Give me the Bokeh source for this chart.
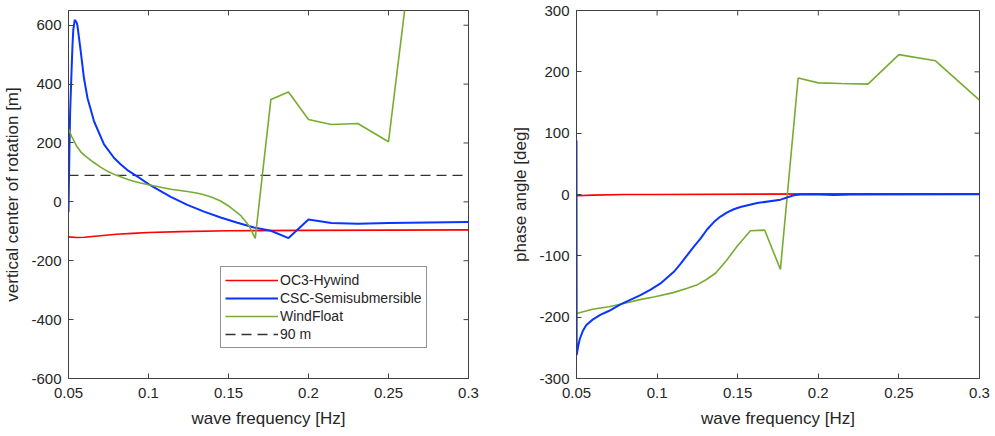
import math
from bokeh.plotting import figure
from bokeh.layouts import row
from bokeh.models import FixedTicker, Legend, LegendItem, Range1d
from bokeh.embed import file_html
from bokeh.resources import INLINE

# ---------------- data ----------------
x_ticks = [0.05, 0.1, 0.15, 0.2, 0.25, 0.3]
x_tick_labels = ["0.05", "0.1", "0.15", "0.2", "0.25", "0.3"]
y1_ticks = [-600, -400, -200, 0, 200, 400, 600]
y2_ticks = [-300, -200, -100, 0, 100, 200, 300]

# left panel: vertical center of rotation [m]
oc3_f = [0.05, 0.055, 0.06, 0.07, 0.08, 0.09, 0.1, 0.12, 0.15, 0.2, 0.25, 0.3]
oc3_z = [-119, -121, -120, -115, -110, -107, -104, -101, -98, -97, -96, -95]

csc_f = [0.05, 0.0505, 0.051, 0.052, 0.0525, 0.053, 0.0539, 0.055, 0.0556, 0.0577,
         0.0597, 0.0619, 0.066, 0.0722, 0.0785, 0.0827, 0.0868, 0.0931, 0.1, 0.1035,
         0.1139, 0.1243, 0.1347, 0.1451, 0.1556, 0.1659, 0.1765, 0.1875, 0.2, 0.2143,
         0.2308, 0.25, 0.3]
csc_z = [-35, 150, 300, 460, 532, 585, 618, 610, 599, 509,
         419, 352, 273, 195, 149, 127, 108, 86, 60, 49,
         17, -10, -33, -53, -71, -87, -98, -123, -60, -72,
         -74, -72, -68]

wf_f = [0.05, 0.052, 0.055, 0.058, 0.06, 0.065, 0.07, 0.075, 0.08, 0.085, 0.09, 0.095,
        0.1, 0.1139, 0.1243, 0.13, 0.1347, 0.14, 0.1451, 0.15, 0.1579, 0.1628, 0.1667,
        0.1765, 0.1875, 0.2, 0.2143, 0.2308, 0.25, 0.2727, 0.3]
wf_z = [248, 222, 190, 168, 158, 137, 118, 102, 90, 80, 71, 64,
        58, 43, 35, 30, 24, 15, 3, -14, -48, -81, -124,
        348, 373, 280, 263, 266, 204, 1210, 1400]

ref_f = [0.05, 0.3]
ref_z = [90, 90]

# right panel: phase angle [deg]
oc3_p_f = [0.05, 0.06, 0.08, 0.1, 0.2, 0.3]
oc3_p = [-2, -1, 0, 0, 1, 1]

csc_p_f = [0.05, 0.0501, 0.051, 0.052, 0.054, 0.056, 0.06, 0.065, 0.07, 0.0773, 0.0897,
           0.096, 0.1021, 0.106, 0.1104, 0.1145, 0.1187, 0.1228, 0.1269, 0.131, 0.1352,
           0.1393, 0.1435, 0.1476, 0.1517, 0.1621, 0.1766, 0.1848, 0.189, 0.2, 0.21,
           0.22, 0.3]
csc_p = [88, -262, -248, -236, -222, -213, -204, -196, -190, -179, -164,
         -155, -145, -136, -126, -113, -99, -85, -72, -57, -45,
         -36, -29, -24, -20.5, -14, -8.4, -1.3, 0, 0, -1,
         0, 0.5]

wf_p_f = [0.05, 0.06, 0.07, 0.0773, 0.09, 0.098, 0.11, 0.1187, 0.125, 0.1304, 0.1364,
          0.1429, 0.15, 0.1579, 0.1667, 0.1765, 0.1875, 0.2, 0.2143, 0.2308, 0.25,
          0.2727, 0.3]
wf_p = [-194, -187, -183, -179, -171, -167, -160, -153, -147, -139, -128,
        -108, -83, -59, -58, -122, 190, 182, 181, 180, 228,
        218, 154]

RED = "#ff0000"
BLUE = "#0a35ff"
GREEN = "#77ac30"
DASH = "#333333"
AX = "#404040"
TXT = "#262626"
FONT = "Liberation Sans"


def style(p, yticks, ylabel):
    p.xgrid.visible = False
    p.ygrid.visible = False
    p.outline_line_color = AX
    p.outline_line_width = 1
    p.xaxis.ticker = FixedTicker(ticks=x_ticks)
    p.xaxis.major_label_overrides = {t: l for t, l in zip(x_ticks, x_tick_labels)}
    p.yaxis.ticker = FixedTicker(ticks=yticks)
    p.yaxis.major_label_overrides = {t: str(t) for t in yticks}
    p.xaxis.axis_label = "wave frequency [Hz]"
    p.yaxis.axis_label = ylabel
    for ax in p.xaxis + p.yaxis:
        ax.axis_line_color = AX
        ax.major_tick_line_color = AX
        ax.major_tick_in = 5
        ax.major_tick_out = 0
        ax.minor_tick_line_color = None
        ax.major_label_text_font = FONT
        ax.major_label_text_font_size = "15px"
        ax.major_label_text_color = TXT
        ax.axis_label_text_font = FONT
        ax.axis_label_text_font_size = "17px"
        ax.axis_label_text_font_style = "normal"
        ax.axis_label_text_color = TXT
    p.xaxis.major_label_standoff = 9
    p.xaxis.axis_label_standoff = 8
    p.yaxis.major_label_standoff = 7
    p.yaxis.axis_label_standoff = 6
    # box-style inward ticks on top and right edges (clipped to frame)
    xr, yr = p.x_range, p.y_range
    p.scatter(x_ticks, [yr.end] * len(x_ticks), marker="dash", angle=math.pi / 2,
              size=10, line_color=AX, line_width=1)
    p.scatter([xr.end] * len(yticks), yticks, marker="dash",
              size=10, line_color=AX, line_width=1)


# ---------------- left panel ----------------
p1 = figure(width=500, height=436, output_backend="svg", toolbar_location=None,
            x_range=Range1d(0.05, 0.3), y_range=Range1d(-600, 650),
            min_border_left=67, min_border_right=32, min_border_top=10, min_border_bottom=57)
style(p1, y1_ticks, "vertical center of rotation [m]")

r_ref = p1.line(ref_f, ref_z, line_color=DASH, line_width=1.3, line_dash="10 6")
r_oc3 = p1.line(oc3_f, oc3_z, line_color=RED, line_width=1.6)
r_csc = p1.line(csc_f, csc_z, line_color=BLUE, line_width=2)
r_wf = p1.line(wf_f, wf_z, line_color=GREEN, line_width=1.6)

legend = Legend(items=[
    LegendItem(label="OC3-Hywind", renderers=[r_oc3]),
    LegendItem(label="CSC-Semisubmersible", renderers=[r_csc]),
    LegendItem(label="WindFloat", renderers=[r_wf]),
    LegendItem(label="90 m", renderers=[r_ref]),
], location=(152, 30))
legend.label_text_font = FONT
legend.label_text_font_size = "14px"
legend.label_text_color = TXT
legend.glyph_width = 53
legend.glyph_height = 18
legend.label_height = 18
legend.label_standoff = 2
legend.spacing = 0
legend.padding = 4
legend.margin = 0
legend.border_line_color = TXT
legend.border_line_width = 1
legend.background_fill_color = "white"
legend.background_fill_alpha = 1
p1.add_layout(legend, "center")

# ---------------- right panel ----------------
p2 = figure(width=495, height=436, output_backend="svg", toolbar_location=None,
            x_range=Range1d(0.05, 0.3), y_range=Range1d(-300, 300),
            min_border_left=76, min_border_right=16, min_border_top=10, min_border_bottom=58)
style(p2, y2_ticks, "phase angle [deg]")

p2.line(oc3_p_f, oc3_p, line_color=RED, line_width=1.6)
p2.line(wf_p_f, wf_p, line_color=GREEN, line_width=1.6)
p2.line(csc_p_f, csc_p, line_color=BLUE, line_width=2)

layout = row(p1, p2)
open("out.html", "w").write(file_html(layout, INLINE))
